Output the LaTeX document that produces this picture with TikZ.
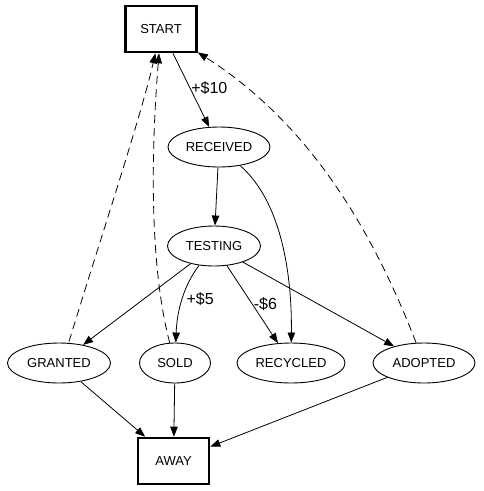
\documentclass[tikz,border=0pt]{standalone}
\usepackage{fontspec}
\setmainfont{Liberation Sans}
\usetikzlibrary{arrows.meta, shapes.geometric}

\begin{document}
\begin{tikzpicture}[
  x=1pt, y=-1pt,
  state/.style={ellipse, draw, line width=0.9pt, inner sep=0pt, minimum height=40pt, text centered, font=\fontsize{13}{15}\selectfont},
  term/.style={rectangle, draw, line width=2.6pt, inner sep=0pt, minimum width=71pt, minimum height=46pt, text centered, font=\fontsize{13}{15}\selectfont},
  edge/.style={-{Triangle[length=10pt, width=7.5pt]}, line width=0.8pt},
  back/.style={edge, dash pattern=on 8pt off 5pt},
  lbl/.style={anchor=west, inner sep=1pt, font=\fontsize{16}{18}\selectfont},
  every node/.style={align=center}
]
\useasboundingbox (0,0) rectangle (483,491);

%% Terminal boxes
\node[term] (start) at (161,29) {START};
\node[term] (away) at (173.5,461) {AWAY};

%% Middle states
\node[state, minimum width=102pt] (received) at (219,147) {RECEIVED};
\node[state, minimum width=93pt] (testing) at (214,246) {TESTING};

%% Bottom row
\node[state, minimum width=103pt] (granted) at (59,363) {GRANTED};
\node[state, minimum width=71pt] (sold) at (175,363) {SOLD};
\node[state, minimum width=108pt] (recycled) at (291,363) {RECYCLED};
\node[state, minimum width=102pt] (adopted) at (424,363) {ADOPTED};

%% Forward edges
\draw[edge] (start) -- node[lbl, pos=0.47] {+\$10} (received);
\draw[edge] (received) -- (testing);
\draw[edge] (received) .. controls (285,205) and (292,285) .. (recycled);
\draw[edge] (testing) -- (granted);
\draw[edge] (testing) .. controls (184,285) and (177,310) .. node[lbl, pos=0.5, xshift=3pt] {+\$5} (sold);
\draw[edge] (testing) -- node[lbl, pos=0.5] {-\$6} (recycled);
\draw[edge] (testing) -- (adopted);

%% Into AWAY
\draw[edge] (granted) -- (away);
\draw[edge] (sold) -- (away);
\draw[edge] (adopted) -- (away);

%% Back to START
\draw[back] (granted.north) ++(10,-1) .. controls (100,240) and (140,120) .. (start);
\draw[back] (sold) .. controls (148,260) and (152,140) .. (start);
\draw[back] (adopted) .. controls (380,250) and (320,130) .. (start);

\end{tikzpicture}
\end{document}
